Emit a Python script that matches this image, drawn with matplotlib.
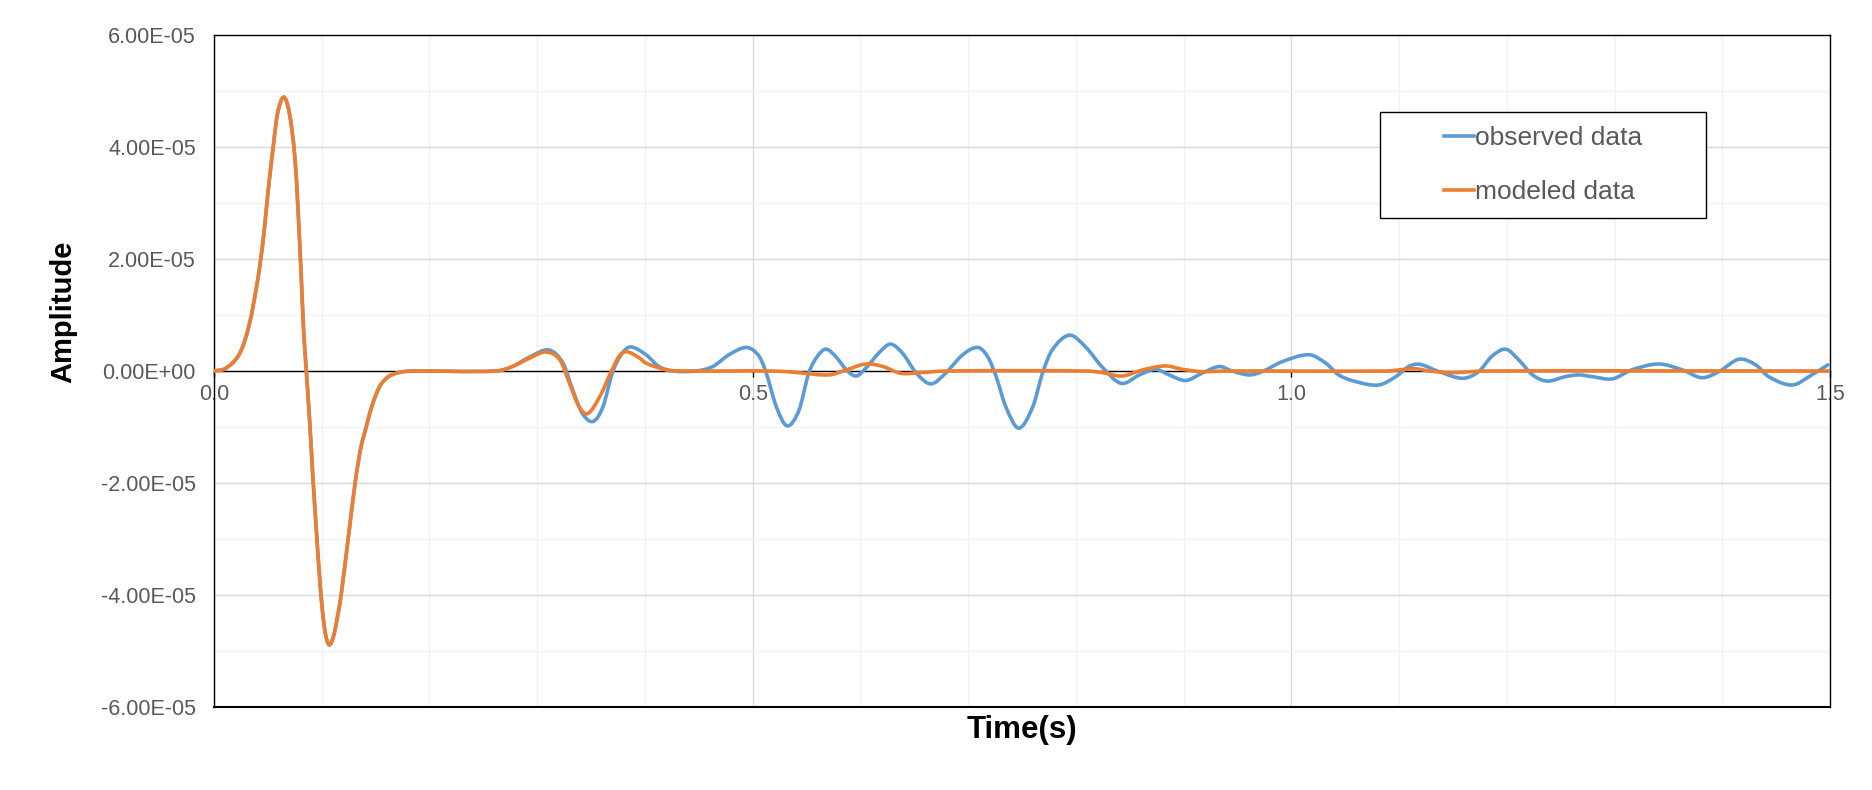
import numpy as np
import matplotlib.pyplot as plt
from matplotlib.path import Path
from matplotlib.patches import PathPatch, Rectangle
from matplotlib.lines import Line2D
from matplotlib.ticker import MultipleLocator, FixedLocator, FuncFormatter

plt.rcParams['font.family'] = ['Liberation Sans', 'DejaVu Sans']

AMP = 1e-6

# first arrival, same in both series
pulse_t = [0.000, 0.011, 0.024, 0.033, 0.041, 0.046, 0.050, 0.055, 0.059, 0.0647,
           0.070, 0.075, 0.078, 0.081, 0.083, 0.0857, 0.0888, 0.0915, 0.0945, 0.0975,
           0.1005, 0.1035, 0.107, 0.111, 0.1145, 0.118, 0.1245, 0.131, 0.136, 0.1414,
           0.147, 0.1537, 0.160, 0.166, 0.175, 0.185, 0.262]
pulse_a = [0.0, 0.5, 3.2, 8.5, 16.8, 24.0, 31.7, 40.1, 46.0, 48.9,
           46.0, 38.3, 28.8, 16.8, 7.9, 0.0, -9.0, -18.0, -27.0, -35.5,
           -42.5, -47.0, -48.9, -47.3, -44.0, -40.0, -30.0, -20.0, -14.0, -9.9,
           -6.0, -2.8, -1.3, -0.6, -0.15, 0.0, 0.0]

# observed data after the first arrival
obs_t = [0.277, 0.293, 0.311, 0.324, 0.333, 0.342, 0.352, 0.361, 0.370, 0.379,
         0.387, 0.401, 0.413, 0.426, 0.4475, 0.463, 0.478, 0.494, 0.505, 0.512,
         0.522, 0.532, 0.543, 0.552, 0.560, 0.568, 0.577, 0.587, 0.596, 0.605,
         0.618, 0.628, 0.639, 0.652, 0.6655, 0.679, 0.695, 0.709, 0.718, 0.726,
         0.735, 0.747, 0.760, 0.769, 0.778, 0.794, 0.809, 0.824, 0.842, 0.859,
         0.874, 0.8865, 0.902, 0.917, 0.933, 0.945, 0.961, 0.973, 0.992, 1.0165,
         1.032, 1.044, 1.060, 1.081, 1.097, 1.109, 1.119, 1.137, 1.159, 1.174,
         1.186, 1.199, 1.211, 1.224, 1.2375, 1.2545, 1.267, 1.279, 1.298, 1.316,
         1.341, 1.363, 1.381, 1.397, 1.4155, 1.431, 1.443, 1.465, 1.483, 1.498]
obs_a = [0.8, 2.5, 3.75, 1.4, -3.4, -7.6, -9.0, -6.4, -0.2, 3.2,
         4.3, 2.9, 0.8, 0.0, 0.0, 0.8, 2.9, 4.2, 2.9, 0.0,
         -6.4, -9.8, -7.0, -0.4, 2.6, 3.9, 2.6, 0.2, -0.9, 0.5,
         3.4, 4.8, 3.2, -0.4, -2.3, -0.4, 2.9, 4.2, 2.6, -1.0,
         -6.4, -10.2, -6.4, -0.4, 3.75, 6.4, 4.3, 0.8, -2.2, -0.7,
         0.3, -0.7, -1.7, -0.4, 0.8, 0.0, -0.7, -0.1, 1.7, 2.9,
         1.4, -0.7, -1.9, -2.5, -1.0, 0.8, 1.2, -0.1, -1.3, -0.1,
         2.6, 3.9, 2.0, -0.7, -1.8, -1.0, -0.7, -1.0, -1.4, 0.2,
         1.25, 0.2, -1.2, -0.1, 2.1, 1.1, -1.0, -2.5, -0.7, 1.1]

# modeled data after the first arrival
mod_t = [0.277, 0.293, 0.308, 0.321, 0.330, 0.339, 0.347, 0.358, 0.368, 0.377,
         0.384, 0.395, 0.401, 0.420, 0.440, 0.520, 0.543, 0.571, 0.587, 0.605,
         0.621, 0.637, 0.655, 0.680, 0.810, 0.825, 0.843, 0.862, 0.883, 0.899,
         0.917, 0.940, 1.090, 1.100, 1.115, 1.128, 1.149, 1.180, 1.500]
mod_a = [0.8, 2.3, 3.4, 2.0, -2.2, -6.4, -7.6, -4.6, -0.4, 2.9,
         3.4, 2.3, 1.4, 0.2, 0.0, 0.0, -0.3, -0.7, 0.2, 1.25,
         0.8, -0.4, -0.3, 0.0, 0.0, -0.3, -0.9, 0.2, 0.9, 0.3,
         -0.1, 0.0, 0.0, 0.2, 0.4, 0.0, -0.3, 0.0, 0.0]

x_ticks = [0.0, 0.5, 1.0, 1.5]
y_ticks = [-6e-5, -4e-5, -2e-5, 0.0, 2e-5, 4e-5, 6e-5]

blue = '#5b9bd5'
orange = '#ed7d31'
grey_text = '#595959'


# smooth line through the points, like a spreadsheet "smoothed line"
def smooth_path(t, a):
    t = np.asarray(t, float)
    a = np.asarray(a, float)
    m = np.empty_like(a)
    m[1:-1] = (a[2:] - a[:-2]) / (t[2:] - t[:-2])
    m[0] = (a[1] - a[0]) / (t[1] - t[0])
    m[-1] = (a[-1] - a[-2]) / (t[-1] - t[-2])
    verts = [(t[0], a[0])]
    codes = [Path.MOVETO]
    for i in range(len(t) - 1):
        h = t[i + 1] - t[i]
        verts += [(t[i] + h / 3, a[i] + m[i] * h / 3),
                  (t[i + 1] - h / 3, a[i + 1] - m[i + 1] * h / 3),
                  (t[i + 1], a[i + 1])]
        codes += [Path.CURVE4] * 3
    return Path(verts, codes)


obs_time = pulse_t + obs_t
obs_amp = [v * AMP for v in pulse_a + obs_a]
mod_time = pulse_t + mod_t
mod_amp = [v * AMP for v in pulse_a + mod_a]

fig = plt.figure(figsize=(18.72, 7.9), dpi=100)
ax = fig.add_axes([214 / 1872, 83 / 790, 1616 / 1872, 672 / 790])
ax.set_xlim(0, 1.5)
ax.set_ylim(-6e-5, 6e-5)

lw = 2.6
ax.add_patch(PathPatch(smooth_path(obs_time, obs_amp), fc='none', ec=blue, lw=lw,
                       capstyle='round', joinstyle='round', zorder=3))
ax.add_patch(PathPatch(smooth_path(mod_time, mod_amp), fc='none', ec=orange, lw=lw,
                       capstyle='round', joinstyle='round', zorder=3.1))

# grid
ax.xaxis.set_major_locator(FixedLocator(x_ticks))
ax.xaxis.set_minor_locator(MultipleLocator(0.1))
ax.yaxis.set_major_locator(FixedLocator(y_ticks))
ax.yaxis.set_minor_locator(MultipleLocator(1e-5))
ax.grid(which='major', color='#d9d9d9', lw=1)
ax.grid(which='minor', color='#f2f2f2', lw=1)
ax.set_axisbelow(True)

# x axis crosses at zero, frame around the plot area
ax.spines['bottom'].set_position(('data', 0))
for s in ['bottom', 'left', 'right', 'top']:
    ax.spines[s].set_color('black')
    ax.spines[s].set_linewidth(1)
ax.axhline(-6e-5, color='black', lw=1.5, clip_on=False, zorder=2.5)

ax.xaxis.set_major_formatter(FuncFormatter(lambda v, p: '%.1f' % v))
ax.yaxis.set_major_formatter(FuncFormatter(lambda v, p: '%.2E' % v))
ax.tick_params(axis='x', which='major', direction='out', length=4, width=1,
               colors='black', labelcolor=grey_text, labelsize=15.5, pad=5)
ax.tick_params(axis='y', which='major', length=0, labelcolor=grey_text,
               labelsize=15.5, pad=13)
ax.tick_params(which='minor', length=0)

fig.text(63 / 1872, 1 - 311.5 / 790, 'Amplitude', rotation=90, ha='center',
         va='center', fontsize=21, fontweight='bold', color='black')
fig.text(1022 / 1872, 1 - 730 / 790, 'Time(s)', ha='center', va='center',
         fontsize=22.5, fontweight='bold', color='black')

# legend box
ax.add_patch(Rectangle((0.7215, 0.7277), 0.2017, 0.1577, transform=ax.transAxes,
                       fc='white', ec='black', lw=1, zorder=4))
handles = [Line2D([], [], color=blue, lw=lw), Line2D([], [], color=orange, lw=lw)]
leg = ax.legend(handles, ['observed data', 'modeled data'], loc='center',
                bbox_to_anchor=(0.8224, 0.8065), frameon=False, fontsize=19,
                labelcolor=grey_text, handlelength=1.14, handletextpad=0.05,
                labelspacing=1.12, borderpad=0, borderaxespad=0)
leg.set_zorder(5)

fig.savefig('out.png', dpi=100)
